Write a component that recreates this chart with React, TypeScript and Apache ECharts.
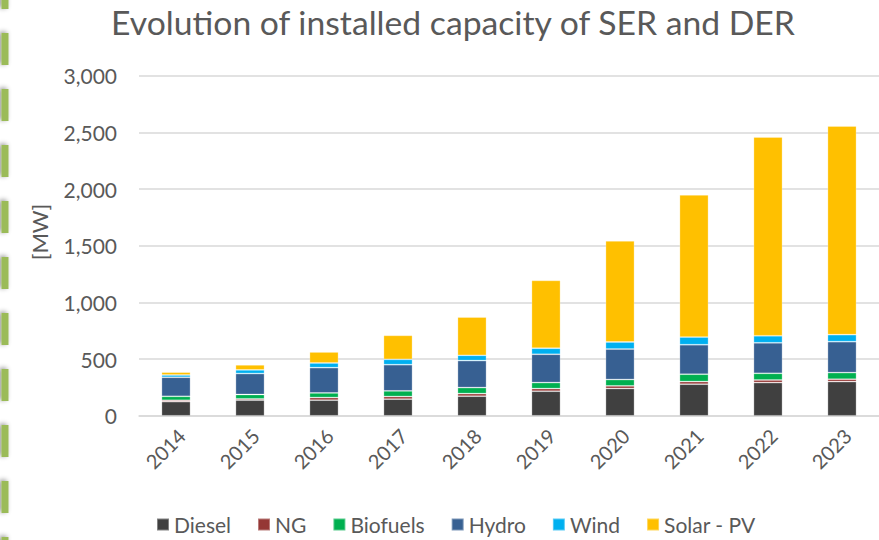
import React, { useEffect, useRef } from "react";
import * as echarts from "echarts";

const years = ["2014", "2015", "2016", "2017", "2018", "2019", "2020", "2021", "2022", "2023"];
const diesel = [125, 138, 138, 147, 173, 217, 241, 279, 293, 302];
const ng = [12, 12, 23, 23, 23, 23, 23, 23, 23, 21];
const biofuels = [35, 38, 41, 50, 53, 53, 56, 65, 59, 58];
const hydro = [168, 185, 223, 231, 238, 250, 269, 260, 269, 273];
const wind = [20, 32, 41, 47, 47, 53, 62, 68, 62, 62];
const solar = [25, 44, 97, 212, 337, 599, 892, 1254, 1754, 1841];

const seriesDefs = [
  { name: "Diesel", data: diesel, color: "#404040" },
  { name: "NG", data: ng, color: "#953735" },
  { name: "Biofuels", data: biofuels, color: "#00B050" },
  { name: "Hydro", data: hydro, color: "#376092" },
  { name: "Wind", data: wind, color: "#00B0F0" },
  { name: "Solar - PV", data: solar, color: "#FFC000" },
];

const FONT = "Lato";
const TEXT = "#595959";

export default function App() {
  const ref = useRef<HTMLDivElement>(null);
  useEffect(() => {
    if (!ref.current) return;
    const chart = echarts.init(ref.current, null, { renderer: "svg" });
    const dashes: any[] = [];
    for (let k = 0; k < 11; k++) {
      dashes.push({
        type: "rect",
        shape: { x: 1.5, y: -23 + 56 * k, width: 7, height: 32 },
        style: {
          fill: "#9BBB59",
          shadowBlur: 5,
          shadowColor: "rgba(0,0,0,0.45)",
          shadowOffsetX: -2,
          shadowOffsetY: -1,
        },
        silent: true,
      });
    }
    chart.setOption({
      animation: false,
      backgroundColor: "#ffffff",
      title: {
        text: "Evolution of installed capacity of SER and DER",
        left: 448,
        textAlign: "center",
        top: 0,
        textStyle: { color: TEXT, fontSize: 33.7, fontWeight: "normal", fontFamily: FONT },
      },
      legend: {
        bottom: 0,
        left: 151,
        itemWidth: 12,
        itemHeight: 12,
        itemGap: 26,
        icon: "rect",
        textStyle: { color: TEXT, fontSize: 21, fontFamily: FONT },
        data: seriesDefs.map((s) => s.name),
      },
      grid: { left: 139, top: 75.8, width: 742, height: 340 },
      xAxis: {
        type: "category",
        data: years,
        axisLine: { lineStyle: { color: "#d9d9d9", width: 1.5 } },
        axisTick: { show: false },
        axisLabel: {
          rotate: 45,
          color: TEXT,
          fontSize: 20,
          fontFamily: FONT,
          margin: 22,
          padding: [0, -8, 0, 0],
        },
      },
      yAxis: {
        type: "value",
        min: 0,
        max: 3000,
        interval: 500,
        axisLine: { show: false },
        axisTick: { show: false },
        splitLine: { lineStyle: { color: "#d9d9d9", width: 1.5 } },
        axisLabel: {
          color: TEXT,
          fontSize: 21,
          fontFamily: FONT,
          margin: 22,
          formatter: (v: number) => v.toLocaleString("en-US"),
        },
      },
      series: seriesDefs.map((s) => ({
        name: s.name,
        type: "bar",
        stack: "total",
        data: s.data,
        barWidth: 29,
        itemStyle: { color: s.color, borderColor: "rgba(255,255,255,0.35)", borderWidth: 0.8 },
      })),
      graphic: [
        ...dashes,
        {
          type: "text",
          x: 39,
          y: 232,
          rotation: Math.PI / 2,
          style: {
            text: "[MW]",
            fill: TEXT,
            fontSize: 22,
            fontFamily: FONT,
            align: "center",
            verticalAlign: "middle",
          },
        },
      ],
    });
    return () => chart.dispose();
  }, []);
  return (
    <div
      ref={ref}
      style={{ position: "absolute", left: 0, top: 0, width: 879, height: 540 }}
    />
  );
}
